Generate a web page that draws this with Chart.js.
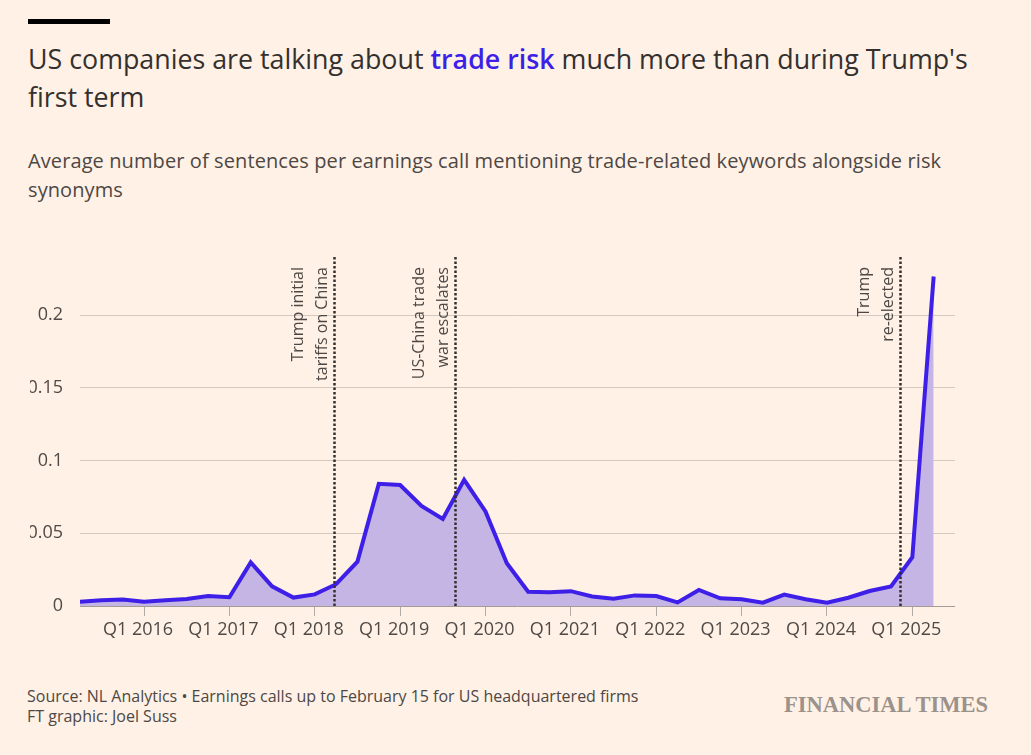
<!DOCTYPE html>
<html>
<head>
<meta charset="utf-8">
<script src="https://cdn.jsdelivr.net/npm/chart.js@4"></script>
<style>
  body { margin: 0; background: #fff1e5; width: 1031px; height: 755px; overflow: hidden; position: relative; font-family: "Open Sans", Lato, sans-serif; color: #33302e; }
  .topbar { position: absolute; left: 28px; top: 19px; width: 82px; height: 5px; background: #000; }
  .title { position: absolute; left: 28px; top: 40px; width: 975px; font-size: 26.8px; line-height: 38px; }
  .title span { color: #3d1fe8; font-weight: 600; }
  .subtitle { position: absolute; left: 28px; top: 146px; width: 960px; font-size: 20px; letter-spacing: 0.1px; line-height: 29px; color: #4d4845; }
  .chart-box { position: absolute; left: 30px; top: 250px; width: 1001px; height: 406px; }
  .source { position: absolute; left: 27px; top: 686px; font-size: 16px; line-height: 20px; color: #4d4845; }
  .logo { position: absolute; left: 784px; top: 694px; font-family: "Liberation Serif", "DejaVu Serif", serif; font-weight: 700; font-size: 22.5px; line-height: 1; color: #9b928c; }
</style>
</head>
<body>
<div class="topbar"></div>
<div class="title">US companies are talking about <span>trade risk</span> much more than during Trump's first term</div>
<div class="subtitle">Average number of sentences per earnings call mentioning trade-related keywords alongside risk synonyms</div>
<div class="chart-box"><canvas id="tradeChart"></canvas></div>
<div class="source">Source: NL Analytics • Earnings calls up to February 15 for US headquartered firms<br>FT graphic: Joel Suss</div>
<div class="logo">FINANCIAL TIMES</div>

<script>
const quarters = [
  "Q2 2015", "Q3 2015", "Q4 2015",
  "Q1 2016", "Q2 2016", "Q3 2016", "Q4 2016",
  "Q1 2017", "Q2 2017", "Q3 2017", "Q4 2017",
  "Q1 2018", "Q2 2018", "Q3 2018", "Q4 2018",
  "Q1 2019", "Q2 2019", "Q3 2019", "Q4 2019",
  "Q1 2020", "Q2 2020", "Q3 2020", "Q4 2020",
  "Q1 2021", "Q2 2021", "Q3 2021", "Q4 2021",
  "Q1 2022", "Q2 2022", "Q3 2022", "Q4 2022",
  "Q1 2023", "Q2 2023", "Q3 2023", "Q4 2023",
  "Q1 2024", "Q2 2024", "Q3 2024", "Q4 2024",
  "Q1 2025", "Q2 2025"
];

const tradeRisk = [
  0.003, 0.004, 0.0045,
  0.003, 0.004, 0.0048, 0.0068,
  0.006, 0.030, 0.0135, 0.0058,
  0.008, 0.015, 0.0305, 0.084,
  0.0832, 0.0688, 0.0598, 0.0868,
  0.065, 0.0294, 0.0098, 0.0094,
  0.0102, 0.0065, 0.005, 0.0073,
  0.0068, 0.0025, 0.011, 0.0053,
  0.0046, 0.0023, 0.0078, 0.0046,
  0.0023, 0.0057, 0.0103, 0.0135,
  0.0335, 0.2266
];

const xTickLabels = ["Q1 2016", "Q1 2017", "Q1 2018", "Q1 2019", "Q1 2020", "Q1 2021", "Q1 2022", "Q1 2023", "Q1 2024", "Q1 2025"];
const yTickValues = [0, 0.05, 0.1, 0.15, 0.2];
const yTickLabels = ["0", "0.05", "0.1", "0.15", "0.2"];

// events as decimal years (Mar 2018, Aug 2019, Nov 2024)
const eventDates = [2018.22, 2019.64, 2024.85];
const eventLabels = [
  ["Trump initial", "tariffs on China"],
  ["US-China trade", "war escalates"],
  ["Trump", "re-elected"]
];

const FONT = '"Open Sans", Lato, sans-serif';

// "Q3 2019" -> 2019.5
function quarterToYear(q) {
  const parts = q.split(" ");
  return parseInt(parts[1]) + (parseInt(parts[0].slice(1)) - 1) / 4;
}

const points = quarters.map((q, i) => ({ x: quarterToYear(q), y: tradeRisk[i] }));
const xTickValues = xTickLabels.map(quarterToYear);

const eventLines = {
  id: "eventLines",
  afterDatasetsDraw(chart) {
    const ctx = chart.ctx;
    const area = chart.chartArea;
    const xs = chart.scales.x;
    ctx.save();
    eventDates.forEach((d, i) => {
      const x = Math.round(xs.getPixelForValue(d)) + 0.5;
      ctx.beginPath();
      ctx.setLineDash([2.5, 2]);
      ctx.lineWidth = 2.5;
      ctx.strokeStyle = "#33302e";
      ctx.moveTo(x, area.top);
      ctx.lineTo(x, area.bottom);
      ctx.stroke();

      ctx.save();
      ctx.translate(x, area.top + 10);
      ctx.rotate(-Math.PI / 2);
      ctx.setLineDash([]);
      ctx.font = "16px " + FONT;
      ctx.fillStyle = "#4d4845";
      ctx.textAlign = "right";
      ctx.textBaseline = "alphabetic";
      const lines = eventLabels[i];
      lines.forEach((t, j) => {
        const off = -8 - (lines.length - 1 - j) * 24;
        ctx.fillText(t, 0, off);
      });
      ctx.restore();
    });
    ctx.restore();
  }
};

new Chart(document.getElementById("tradeChart"), {
  type: "line",
  data: {
    datasets: [{
      data: points,
      borderColor: "#3d1fe8",
      borderWidth: 4,
      backgroundColor: "#c5b5e5",
      fill: "origin",
      pointRadius: 0,
      tension: 0,
      borderJoinStyle: "miter"
    }]
  },
  options: {
    responsive: true,
    maintainAspectRatio: false,
    animation: false,
    layout: { padding: { top: 7, right: 76, left: 0, bottom: 0 } },
    plugins: { legend: { display: false }, tooltip: { enabled: false } },
    scales: {
      x: {
        type: "linear",
        min: quarterToYear(quarters[0]),
        max: quarterToYear(quarters[quarters.length - 1]) + 0.25,
        afterBuildTicks: s => { s.ticks = xTickValues.map(v => ({ value: v })); },
        afterFit: s => { s.height = 50; s.paddingLeft = 0; s.paddingRight = 0; },
        grid: { drawOnChartArea: false, drawTicks: true, tickLength: 10, color: "#b3aca6" },
        border: { display: false },
        ticks: {
          autoSkip: false,
          maxRotation: 0,
          padding: 3,
          labelOffset: -6,
          color: "#4f4a47",
          font: { family: FONT, size: 18 },
          callback: v => xTickLabels[xTickValues.indexOf(v)]
        }
      },
      y: {
        min: 0,
        max: 0.24,
        afterBuildTicks: s => { s.ticks = yTickValues.map(v => ({ value: v })); },
        afterFit: s => { s.width = 50; s.paddingTop = 0; s.paddingBottom = 0; },
        grid: {
          drawTicks: false,
          color: c => (c.tick && c.tick.value === 0 ? "#a39b94" : "#d3c9bf")
        },
        border: { display: false },
        ticks: {
          padding: 17,
          color: "#4f4a47",
          font: { family: FONT, size: 18 },
          callback: v => yTickLabels[yTickValues.indexOf(v)]
        }
      }
    }
  },
  plugins: [eventLines]
});
</script>
</body>
</html>
